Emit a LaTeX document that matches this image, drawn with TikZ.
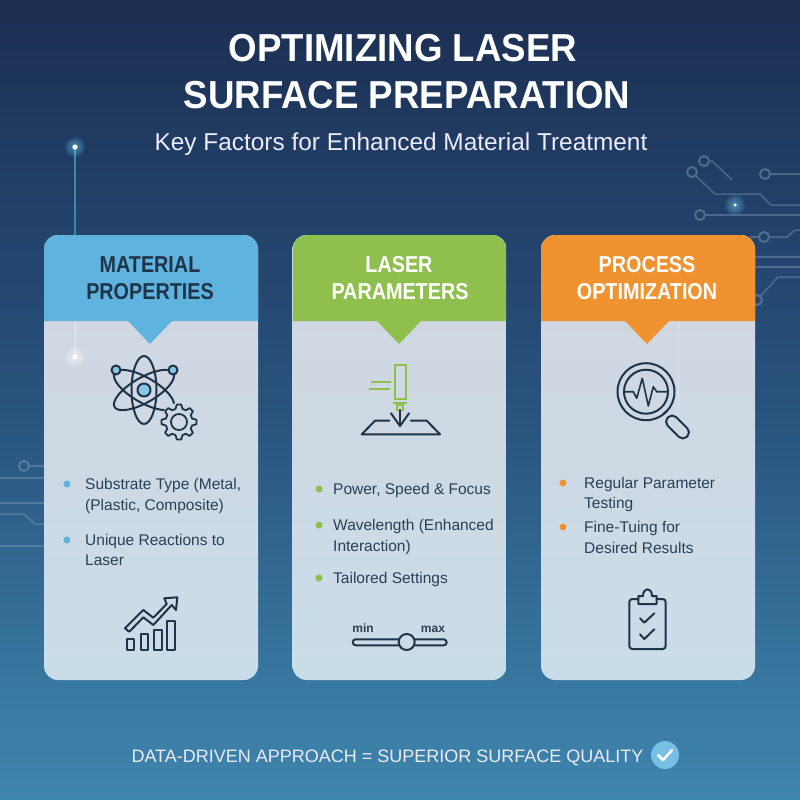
\documentclass[tikz,border=0pt]{standalone}
\usepackage{fontspec}
\setmainfont{Liberation Sans}
\newfontfamily\headfont[FakeStretch=0.86]{Liberation Sans}
\newfontfamily\titlefont[FakeStretch=0.94]{Liberation Sans}
\usepackage{tikz}
\usetikzlibrary{arrows, calc}
\definecolor{bgtop}{HTML}{1C2E52}
\definecolor{bgmid}{HTML}{28527C}
\definecolor{bgbot}{HTML}{3F86AE}
\definecolor{inkdark}{HTML}{1F3349}
\definecolor{textdark}{HTML}{2B3F55}
\definecolor{bodytop}{HTML}{D2D6DF}
\definecolor{bodybot}{HTML}{C9DDE9}
\definecolor{matblue}{HTML}{5FB4DF}
\definecolor{lasgreen}{HTML}{8FBF4D}
\definecolor{procorange}{HTML}{F0922F}
\definecolor{tracecol}{HTML}{7C9BB8}
\definecolor{glowblue}{HTML}{6CCBF5}
\definecolor{stemcol}{HTML}{3F86A5}
\tikzset{
  panel/.style={minimum width=214pt, minimum height=445pt, inner sep=0pt, rounded corners=14pt, top color=bodytop, bottom color=bodybot},
  titletext/.style={font=\titlefont\fontsize{39}{39}\selectfont\bfseries, text=white, anchor=base, inner sep=0pt},
  heading/.style={font=\headfont\fontsize{23}{23}\selectfont\bfseries, anchor=base, inner sep=0pt},
  itemtext/.style={font=\fontsize{15.5}{16}\selectfont, text=textdark, anchor=base west, inner sep=0pt},
  itemdot/.style={circle, minimum size=7pt, inner sep=0pt},
  icon/.style={draw=inkdark, line width=2pt, line join=round, line cap=round},
  lasline/.style={draw=lasgreen, line width=2pt},
  trace/.style={draw=tracecol, line width=1.5pt, opacity=0.45},
  pad/.style={circle, draw=tracecol, line width=2pt, minimum size=10pt, inner sep=0pt, opacity=0.5},
  spot/.style={circle, fill=white, minimum size=5pt, inner sep=0pt}
}
\newcommand{\glowspot}[3]{\foreach \rad in {2,4,...,#3} {\fill[#2, opacity=0.13] (#1) circle (\rad pt);}}
\begin{document}
\begin{tikzpicture}[x=1pt, y=-1pt]
\useasboundingbox (0,0) rectangle (800,800);
\shade[top color=bgtop, bottom color=bgbot, middle color=bgmid] (0,0) rectangle (800,800);
%
\node[pad] (padr1) at (704,161) {};
\node[pad] (padr2) at (692,172) {};
\node[pad] (padr3) at (765,174) {};
\node[pad] (padr4) at (700,215) {};
\node[pad] (padr5) at (764,237) {};
\node[pad] (padr6) at (757,300) {};
\draw[trace] (padr1) -- (712,161) -- (732,180);
\draw[trace] (padr2) -- (715,194) -- (760,194) -- (771,205) -- (800,205);
\draw[trace] (padr3) -- (800,174);
\draw[trace] (padr4) -- (800,215);
\draw[trace] (padr5) -- (787,237) -- (795,230) -- (800,230);
\draw[trace] (padr5) -- (750,237);
\draw[trace] (padr6) -- (778,277) -- (800,277);
\draw[trace] (750,257) -- (800,257);
\draw[trace] (750,267) -- (800,267);
%
\node[pad] (padl1) at (24,466) {};
\draw[trace] (padl1) -- (50,466);
\draw[trace] (0,478) -- (50,478);
\draw[trace] (0,503) -- (50,503);
\draw[trace] (0,514) -- (24,514) -- (35,524) -- (50,524);
\draw[trace] (0,546) -- (50,546);
%
\node[spot] (spota) at (75,147) {};
\node[spot, minimum size=3pt] (spotb) at (735,205) {};
\draw[stemcol, line width=1.5pt] (spota) -- (75,235);
\glowspot{spota}{glowblue}{10}
\glowspot{spotb}{glowblue}{10}
\node[spot] at (spota) {};
\node[spot, minimum size=3pt] at (spotb) {};
%
\node[titletext] (title1) at (403,62) {OPTIMIZING LASER};
\node[titletext] (title2) at (407,108) {SURFACE PREPARATION};
\node[font=\fontsize{24.4}{25}\selectfont, text=white!92!blue, anchor=base, inner sep=0pt] (subtitle) at (401,150) {Key Factors for Enhanced Material Treatment};
%
\node[panel] (panela) at (151,457.5) {};
\node[panel] (panelb) at (399.5,457.5) {};
\node[panel] (panelc) at (648,457.5) {};
\fill[matblue] (44,321) -- (44,249) .. controls (44,241) and (51,235) .. (58,235) -- (244,235) .. controls (251,235) and (258,241) .. (258,249) -- (258,321) -- (172,321) -- (150,344) -- (128,321) -- cycle;
\fill[lasgreen] (293,321) -- (293,249) .. controls (293,241) and (300,235) .. (307,235) -- (492,235) .. controls (499,235) and (506,241) .. (506,249) -- (506,321) -- (421,321) -- (399,344) -- (377,321) -- cycle;
\fill[procorange] (541,321) -- (541,249) .. controls (541,241) and (548,235) .. (555,235) -- (741,235) .. controls (748,235) and (755,241) .. (755,249) -- (755,321) -- (669,321) -- (647,344) -- (625,321) -- cycle;
%
\draw[white, opacity=0.45, line width=1pt] (75,321) -- (75,357);
\coordinate (spotc) at (75,357);
\glowspot{spotc}{white}{10}
\node[spot] (spotd) at (spotc) {};
\draw[white, opacity=0.3, line width=1pt] (678,321) -- (678,410);
%
\node[heading, text=inkdark] (heada1) at (150,272) {MATERIAL};
\node[heading, text=inkdark] (heada2) at (150,299) {PROPERTIES};
\node[heading, text=white] (headb1) at (399,272) {LASER};
\node[heading, text=white] (headb2) at (400,299) {PARAMETERS};
\node[heading, text=white] (headc1) at (647,272) {PROCESS};
\node[heading, text=white] (headc2) at (647,299) {OPTIMIZATION};
%
\node[itemdot, fill=matblue] (dota1) at (67,484) {};
\node[itemdot, fill=matblue] (dota2) at (67,540) {};
\node[itemtext] (texta1) at (85,489.5) {Substrate Type (Metal,};
\node[itemtext] (texta2) at (85,510.5) {(Plastic, Composite)};
\node[itemtext] (texta3) at (85,545.5) {Unique Reactions to};
\node[itemtext] (texta4) at (85,565.5) {Laser};
%
\node[itemdot, fill=lasgreen] (dotb1) at (319,489) {};
\node[itemdot, fill=lasgreen] (dotb2) at (319,525) {};
\node[itemdot, fill=lasgreen] (dotb3) at (319,578) {};
\node[itemtext] (textb1) at (333,494.5) {Power, Speed \& Focus};
\node[itemtext] (textb2) at (333,530.5) {Wavelength (Enhanced};
\node[itemtext] (textb3) at (333,551.5) {Interaction)};
\node[itemtext] (textb4) at (333,583.5) {Tailored Settings};
%
\node[itemdot, fill=procorange] (dotc1) at (563,483) {};
\node[itemdot, fill=procorange] (dotc2) at (563,527) {};
\node[itemtext] (textc1) at (584,488.5) {Regular Parameter};
\node[itemtext] (textc2) at (584,508.5) {Testing};
\node[itemtext] (textc3) at (584,532.5) {Fine-Tuing for};
\node[itemtext] (textc4) at (584,553.5) {Desired Results};
%
% atom and gear
\draw[icon] (144,390) ellipse (12.5 and 34);
\draw[icon, rotate around={60:(144,390)}] (144,390) ellipse (12.5 and 34);
\draw[icon, rotate around={-60:(144,390)}] (144,390) ellipse (12.5 and 34);
\node[circle, icon, fill=matblue!75!white, minimum size=13pt, inner sep=0pt] (nucleus) at (144,390) {};
\node[circle, icon, fill=matblue!75!white, minimum size=9pt, inner sep=0pt] (elec1) at (116,370) {};
\node[circle, icon, fill=matblue!75!white, minimum size=9pt, inner sep=0pt] (elec2) at (173,370) {};
\fill[bodytop!60!bodybot] (179,422) circle (19);
\draw[icon, line width=1.8pt] plot[samples at={0,...,47}, variable=\t] ({179+(mod(\t+1,6)<3?17.5:13.5)*cos(\t*7.5)},{422+(mod(\t+1,6)<3?17.5:13.5)*sin(\t*7.5)}) -- cycle;
\draw[icon, line width=1.8pt] (179,422) circle (8);
%
% chart
\draw[icon] (127.3,639) rectangle (134.3,650);
\draw[icon] (140.7,634.3) rectangle (147.7,650);
\draw[icon] (154,630) rectangle (161.7,650);
\draw[icon] (167.3,620.7) rectangle (175,650);
\draw[icon] (125,628.3) -- (143.3,610) -- (153.3,617.7) -- (166.7,604) -- (164.3,598.3) -- (177.3,597.3) -- (176,610) -- (171.7,605) -- (153.3,625) -- (143.3,617.3) -- (129.3,631.7) -- cycle;
%
% laser
\draw[lasline] (395,365) rectangle (405.7,399);
\draw[lasline] (371,381.7) -- (390.7,381.7);
\draw[lasline] (369,389.3) -- (390,389.3);
\draw[lasline] (393.3,403.3) -- (406.7,403.3);
\draw[lasline] (396.7,405) rectangle (402.7,410);
\draw[icon] (400,410) -- (400,426);
\draw[icon] (391,413.3) -- (400,426) -- (409,413.3);
\draw[icon] (389.3,420.7) -- (375,420.7) -- (361.7,434.3) -- (440,434.3) -- (426.7,420.7) -- (410.7,420.7);
%
% slider
\draw[icon, rounded corners=3pt] (352.7,639.3) rectangle (446.7,645.3);
\node[circle, icon, fill=bodytop!30!bodybot, minimum size=16pt, inner sep=0pt] (knob) at (406.7,642) {};
\node[font=\fontsize{12}{12}\selectfont\bfseries, text=textdark, anchor=base, inner sep=0pt] (minlabel) at (363,632) {min};
\node[font=\fontsize{12}{12}\selectfont\bfseries, text=textdark, anchor=base, inner sep=0pt] (maxlabel) at (433,632) {max};
%
% magnifier
\draw[icon] (646,391.7) circle (28.5);
\draw[icon] (646,391.7) circle (22);
\draw[icon, line width=1.6pt] (625,391.7) -- (633.3,391.7) -- (636.7,398.3) -- (642.3,378.3) -- (648.3,406) -- (653.3,386.7) -- (656.7,391.7) -- (666.7,391.7);
\node[icon, rotate=-45, minimum width=27pt, minimum height=12pt, inner sep=0pt, rounded corners=5.5pt] (handle) at (677.5,427) {};
\draw[icon] (666.5,411) -- (663,414.5);
%
% clipboard
\draw[icon, rounded corners=3pt] (638.3,599) -- (629.3,599) -- (629.3,649) -- (665.7,649) -- (665.7,599) -- (656.7,599);
\draw[icon] (638.3,604) -- (656.7,604) -- (656.7,596) -- (652,596) .. controls (652,587) and (643,587) .. (643,596) -- (638.3,596) -- cycle;
\draw[icon] (640,618.3) -- (644.3,622.7) -- (654.3,613.3);
\draw[icon] (640,634.3) -- (644.3,639) -- (654.3,629.3);
%
\node[font=\fontsize{18}{20}\selectfont, text=white!92!blue, anchor=base, inner sep=0pt] (footer) at (387.5,762.5) {DATA-DRIVEN APPROACH = SUPERIOR SURFACE QUALITY};
\node[circle, fill=matblue!85!white, minimum size=28pt, inner sep=0pt] (okmark) at (665,755) {};
\draw[white, line width=2.6pt, line cap=round, line join=round] ($(okmark)+(-7,0)$) -- ($(okmark)+(-2,5)$) -- ($(okmark)+(7,-5)$);
\end{tikzpicture}
\end{document}
